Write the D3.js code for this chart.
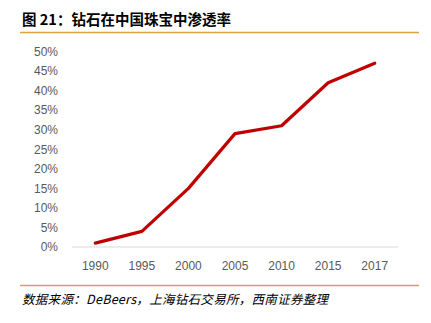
<!DOCTYPE html>
<html><head><meta charset="utf-8">
<script src="https://cdn.jsdelivr.net/npm/d3@7"></script>
<style>
body{margin:0;background:#fff;}
svg{display:block;}
</style></head>
<body>
<script>
const categories = ["1990","1995","2000","2005","2010","2015","2017"];
const values = [1, 4, 15, 29, 31, 42, 47];
const yTicks = [0,5,10,15,20,25,30,35,40,45,50];
const titleText = "图 21：钻石在中国珠宝中渗透率";
const sourceText = "数据来源：DeBeers，上海钻石交易所，西南证券整理";

const W = 431, H = 323;
const svg = d3.select("body").append("svg").attr("width", W).attr("height", H);

svg.append("text").attr("x", 22).attr("y", 25)
  .attr("font-family", "'Noto Sans CJK SC', sans-serif").attr("font-weight", "bold")
  .attr("font-size", 14.5).attr("fill", "#000").text(titleText);
svg.append("line").attr("x1", 20).attr("x2", 419).attr("y1", 32.5).attr("y2", 32.5)
  .attr("stroke", "#E0A040").attr("stroke-width", 1.5);

const x = d3.scaleBand().domain(categories).range([72, 398]);
const y = d3.scaleLinear().domain([0, 50]).range([247, 51.5]);

svg.append("line").attr("x1", 72).attr("x2", 398).attr("y1", y(0)).attr("y2", y(0))
  .attr("stroke", "#D9D9D9").attr("stroke-width", 1);

const yAxis = svg.append("g").attr("transform", "translate(58,0)")
  .call(d3.axisLeft(y).tickValues(yTicks).tickSize(0).tickPadding(0).tickFormat(d => d + "%"));
yAxis.select(".domain").remove();
yAxis.selectAll("text").attr("font-family", "'Liberation Sans', Arial, sans-serif")
  .attr("font-size", 12).attr("fill", "#595959");

const xAxis = svg.append("g").attr("transform", "translate(0," + y(0) + ")")
  .call(d3.axisBottom(x).tickSize(0).tickPadding(14));
xAxis.select(".domain").remove();
xAxis.selectAll("text").attr("font-family", "'Liberation Sans', Arial, sans-serif")
  .attr("font-size", 12).attr("fill", "#595959");

const line = d3.line().x((d, i) => x(categories[i]) + x.bandwidth() / 2).y(d => y(d));
svg.append("path").datum(values).attr("d", line)
  .attr("fill", "none").attr("stroke", "#C00000").attr("stroke-width", 3.2)
  .attr("stroke-linejoin", "round").attr("stroke-linecap", "round");

svg.append("line").attr("x1", 20).attr("x2", 419).attr("y1", 285.5).attr("y2", 285.5)
  .attr("stroke", "#C9A468").attr("stroke-width", 1.5);
svg.append("text").attr("x", 22).attr("y", 304)
  .attr("font-family", "'Noto Sans CJK SC', sans-serif").attr("font-style", "italic")
  .attr("font-size", 12.5).attr("letter-spacing", 0.3).attr("fill", "#000").text(sourceText);
</script>
</body></html>
